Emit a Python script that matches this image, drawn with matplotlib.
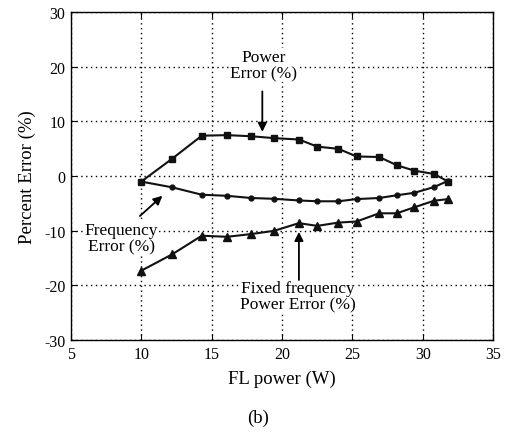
import numpy as np
import matplotlib.pyplot as plt

plt.rcParams['font.family'] = ['Liberation Serif', 'DejaVu Serif']
plt.rcParams['axes.unicode_minus'] = False

# FL power (W) of each measured point
fl_power = [10.0, 12.2, 14.3, 16.1, 17.8, 19.45, 21.2, 22.5, 24.0, 25.3, 26.9, 28.15, 29.4, 30.8, 31.8]

# percent errors
power_err = [-1.0, 3.2, 7.4, 7.5, 7.3, 6.95, 6.7, 5.4, 5.0, 3.6, 3.5, 2.0, 1.0, 0.4, -1.0]
freq_err = [-1.0, -2.05, -3.4, -3.6, -4.0, -4.15, -4.45, -4.6, -4.6, -4.2, -4.0, -3.5, -3.05, -2.0, -0.85]
fixed_err = [-17.3, -14.3, -10.9, -11.1, -10.6, -10.0, -8.6, -9.1, -8.5, -8.3, -6.8, -6.8, -5.7, -4.5, -4.2]

fig = plt.figure(figsize=(5.10, 4.39), dpi=100)
ax = fig.add_axes([0.139, 0.223, 0.828, 0.747])

ax.plot(fl_power, power_err, color='#111111', lw=1.5, marker='s', ms=5)
ax.plot(fl_power, freq_err, color='#111111', lw=1.5, marker='o', ms=3.5)
ax.plot(fl_power, fixed_err, color='#111111', lw=1.5, marker='^', ms=6)

ax.set_xlim(5, 35)
ax.set_ylim(-30, 30)
ax.set_xticks(np.arange(5, 36, 5))
ax.set_yticks(np.arange(-30, 31, 10))
ax.grid(True, linestyle=(0, (1, 2.5)), color='black', lw=1.0)
ax.tick_params(direction='in', top=True, right=True, labelsize=11.5, length=4, pad=4)
for s in ax.spines.values():
    s.set_linewidth(1.0)

ax.set_xlabel('FL power (W)', fontsize=13.5, labelpad=6)
ax.set_ylabel('Percent Error (%)', fontsize=13.5, labelpad=6)

box = dict(facecolor='white', edgecolor='none', pad=0.5)
arrow = dict(arrowstyle='-|>', color='black', lw=1.3, mutation_scale=13, shrinkA=0, shrinkB=0)

ax.text(18.7, 20.3, 'Power\nError (%)', ha='center', va='center', fontsize=12.5,
        linespacing=1.05, bbox=box)
ax.annotate('', xy=(18.6, 8.1), xytext=(18.6, 15.5), arrowprops=arrow)

ax.text(8.6, -11.4, 'Frequency\nError (%)', ha='center', va='center', fontsize=12.5,
        linespacing=1.05, bbox=box)
ax.annotate('', xy=(11.5, -3.6), xytext=(9.9, -7.3), arrowprops=arrow)

ax.text(21.1, -21.9, 'Fixed frequency\nPower Error (%)', ha='center', va='center', fontsize=12.5,
        linespacing=1.05, bbox=box)
ax.annotate('', xy=(21.2, -10.2), xytext=(21.2, -19.0), arrowprops=arrow)

fig.text(0.506, 0.048, '(b)', ha='center', va='center', fontsize=13.5)

fig.savefig('out.png', dpi=100)
